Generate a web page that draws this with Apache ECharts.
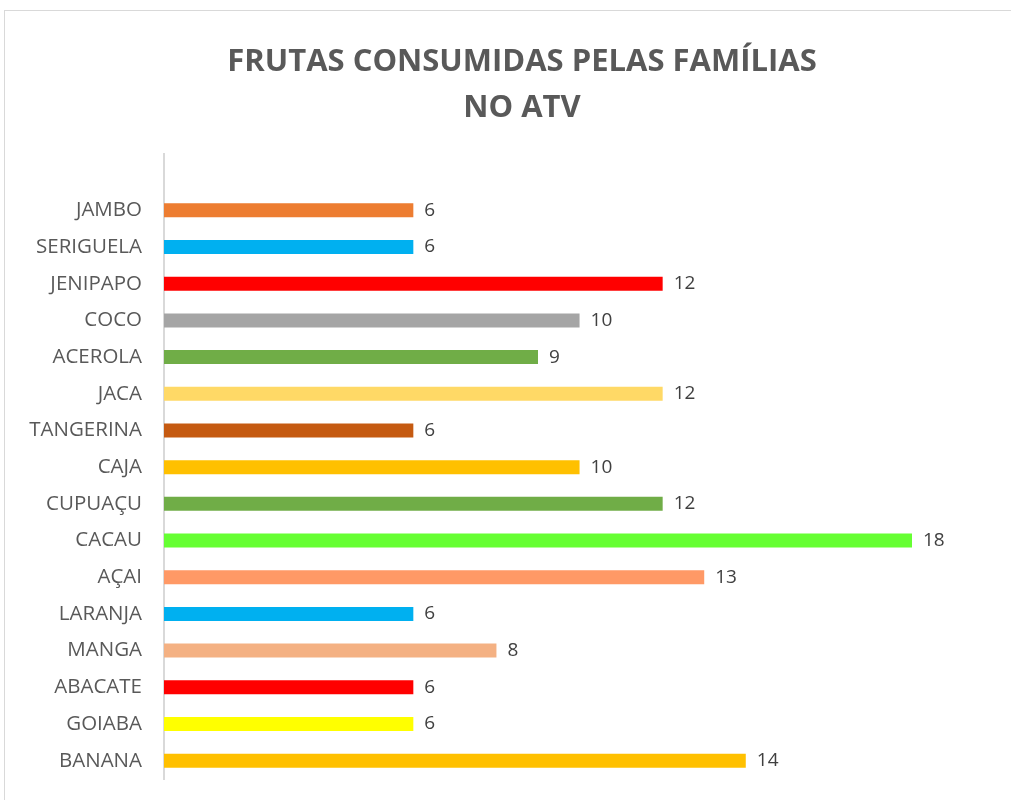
<!DOCTYPE html>
<html>
<head>
<meta charset="utf-8">
<script src="https://cdn.jsdelivr.net/npm/echarts@6/dist/echarts.min.js"></script>
<style>
  html, body { margin: 0; padding: 0; background: #fff; }
  #frame { position: absolute; left: 4px; top: 10px; width: 1020px; height: 800px; border: 1px solid #d9d9d9; box-sizing: border-box; }
  #chart { position: absolute; left: 0; top: 0; width: 1011px; height: 800px; }
</style>
</head>
<body>
<div id="frame"></div>
<div id="chart"></div>
<script>
// frutas, de cima para baixo
const frutas = ['JAMBO', 'SERIGUELA', 'JENIPAPO', 'COCO', 'ACEROLA', 'JACA', 'TANGERINA', 'CAJA',
  'CUPUAÇU', 'CACAU', 'AÇAI', 'LARANJA', 'MANGA', 'ABACATE', 'GOIABA', 'BANANA'];
const familias = [6, 6, 12, 10, 9, 12, 6, 10, 12, 18, 13, 6, 8, 6, 6, 14];
const cores = ['#ED7D31', '#00B0F0', '#FF0000', '#A5A5A5', '#70AD47', '#FFD966', '#C55A11', '#FFC000',
  '#70AD47', '#66FF33', '#FF9966', '#00B0F0', '#F4B183', '#FF0000', '#FFFF00', '#FFC000'];

const chart = echarts.init(document.getElementById('chart'));

const option = {
  animation: false,
  title: {
    text: 'FRUTAS CONSUMIDAS PELAS FAMÍLIAS\nNO ATV',
    left: 517,
    textAlign: 'center',
    top: 34,
    textStyle: {
      fontFamily: '"Open Sans", sans-serif',
      fontWeight: 'bold',
      fontSize: 31,
      lineHeight: 46,
      color: '#595959'
    }
  },
  grid: { left: 164, right: 99, top: 192, bottom: 21 },
  xAxis: {
    type: 'value',
    min: 0,
    max: 18,
    show: false
  },
  yAxis: {
    type: 'category',
    data: frutas,
    inverse: true,
    axisLine: { show: false },
    axisTick: { show: false },
    axisLabel: {
      margin: 22,
      fontFamily: '"Open Sans", sans-serif',
      fontSize: 20.5,
      color: '#595959'
    }
  },
  graphic: [{
    type: 'line',
    shape: { x1: 164, y1: 153, x2: 164, y2: 780 },
    style: { stroke: '#d9d9d9', lineWidth: 2 }
  }],
  series: [{
    type: 'bar',
    barWidth: 14,
    data: familias.map((v, i) => ({ value: v, itemStyle: { color: cores[i] } })),
    label: {
      show: true,
      position: 'right',
      distance: 11,
      fontFamily: '"Open Sans", sans-serif',
      fontSize: 19,
      color: '#404040'
    }
  }]
};

chart.setOption(option);
</script>
</body>
</html>
